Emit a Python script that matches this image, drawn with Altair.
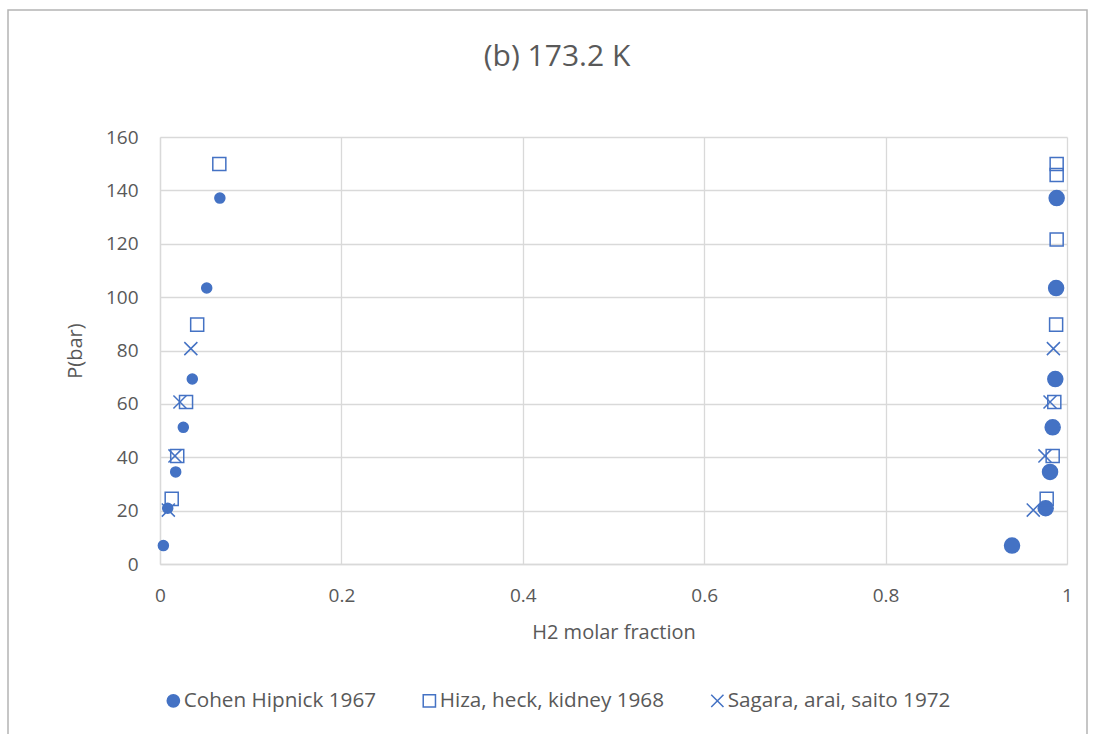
import altair as alt
import pandas as pd

TITLE = "(b) 173.2 K"
SERIES = ["Cohen Hipnick 1967", "Hiza, heck, kidney 1968", "Sagara, arai, saito 1972"]

# Cohen Hipnick 1967 – liquid side (small dots) and vapour side (large dots)
cohen_liq_x = [0.066, 0.0515, 0.0356, 0.0257, 0.0173, 0.0085, 0.0037]
cohen_liq_p = [137.1, 103.4, 69.3, 51.2, 34.5, 20.9, 6.9]
cohen_vap_x = [0.9886, 0.988, 0.9871, 0.9842, 0.9813, 0.9765, 0.9394]
cohen_vap_p = [137.1, 103.4, 69.3, 51.2, 34.5, 20.9, 6.9]

# Hiza, heck, kidney 1968
hiza_x = [0.0654, 0.041, 0.0287, 0.019, 0.0129,
          0.9886, 0.9886, 0.9886, 0.988, 0.986, 0.9842, 0.9776]
hiza_p = [149.9, 89.7, 60.7, 40.5, 24.4,
          149.9, 145.8, 121.6, 89.7, 60.7, 40.5, 24.4]

# Sagara, arai, saito 1972
sagara_x = [0.034, 0.022, 0.0165, 0.0092, 0.985, 0.9813, 0.9757, 0.9628]
sagara_p = [80.7, 60.7, 40.5, 20.2, 80.7, 60.7, 40.5, 20.2]

x_ticks = [0, 0.2, 0.4, 0.6, 0.8, 1]
y_ticks = [0, 20, 40, 60, 80, 100, 120, 140, 160]

BLUE = "#4472C4"
GREY_TXT = "#595959"
FONT = "Open Sans"

rows = []
for x, p in zip(cohen_liq_x, cohen_liq_p):
    rows.append({"x": x, "p": p, "series": SERIES[0], "sz": 100})
for x, p in zip(cohen_vap_x, cohen_vap_p):
    rows.append({"x": x, "p": p, "series": SERIES[0], "sz": 225})
for x, p in zip(hiza_x, hiza_p):
    rows.append({"x": x, "p": p, "series": SERIES[1], "sz": 170})
for x, p in zip(sagara_x, sagara_p):
    rows.append({"x": x, "p": p, "series": SERIES[2], "sz": 170})
df = pd.DataFrame(rows)

X_PATH = "M-1,-1L1,1M-1,1L1,-1"

points = alt.Chart(df).mark_point(strokeWidth=1.5, opacity=1).encode(
    x=alt.X("x:Q", scale=alt.Scale(domain=[0, 1], nice=False),
            axis=alt.Axis(values=x_ticks, title="H2 molar fraction", labelFlush=False,
                          labelExpr="datum.value == 0 ? '0' : datum.value == 1 ? '1' : format(datum.value, '.1f')",
                          titleY=74, titleBaseline="alphabetic")),
    y=alt.Y("p:Q", scale=alt.Scale(domain=[0, 160], nice=False),
            axis=alt.Axis(values=y_ticks, title="P(bar)", titleX=-79, titleY=213.5,
                          labelFlush=False, titleBaseline="alphabetic")),
    shape=alt.Shape("series:N", scale=alt.Scale(domain=SERIES, range=["circle", "square", X_PATH]),
                    legend=alt.Legend(title=None)),
    fill=alt.Fill("series:N", scale=alt.Scale(domain=SERIES, range=[BLUE, "transparent", "transparent"]),
                  legend=alt.Legend(title=None)),
    stroke=alt.Stroke("series:N", scale=alt.Scale(domain=SERIES, range=[BLUE, BLUE, BLUE]),
                      legend=alt.Legend(title=None)),
    size=alt.Size("sz:Q", scale=None, legend=None),
)

one = pd.DataFrame({"t": [TITLE]})
title = alt.Chart(one).mark_text(fontSize=30, font=FONT, color=GREY_TXT, baseline="alphabetic",
                                 align="center").encode(
    text="t:N", x=alt.value(397), y=alt.value(-71))

border = alt.Chart(one).mark_rect(fill=None, stroke="#b4b4b4", strokeWidth=1.5).encode(
    x=alt.value(-152), x2=alt.value(927), y=alt.value(-127), y2=alt.value(640))

chart = alt.layer(border, title, points).properties(
    width=907, height=427,
    autosize=alt.AutoSizeParams(type="none"),
    padding={"left": 160, "top": 137, "right": 29, "bottom": 170},
    background="white",
).configure_view(stroke=None).configure_axis(
    grid=True, gridColor="#d9d9d9", gridWidth=1.3,
    domainColor="#d9d9d9", domainWidth=1.3, ticks=False,
    labelFont=FONT, labelFontSize=19, labelColor=GREY_TXT, labelPadding=22,
    titleFont=FONT, titleFontSize=20, titleColor=GREY_TXT, titleFontWeight="normal",
).configure_legend(
    orient="none", legendX=3, legendY=553, direction="horizontal",
    labelFont=FONT, labelFontSize=20.7, labelColor=GREY_TXT, labelLimit=0,
    symbolStrokeWidth=1.5, symbolSize=150, symbolOpacity=1,
    columnPadding=42, labelOffset=0, padding=0,
)

chart.save("out.html", embed_options={"renderer": "svg", "actions": False})
